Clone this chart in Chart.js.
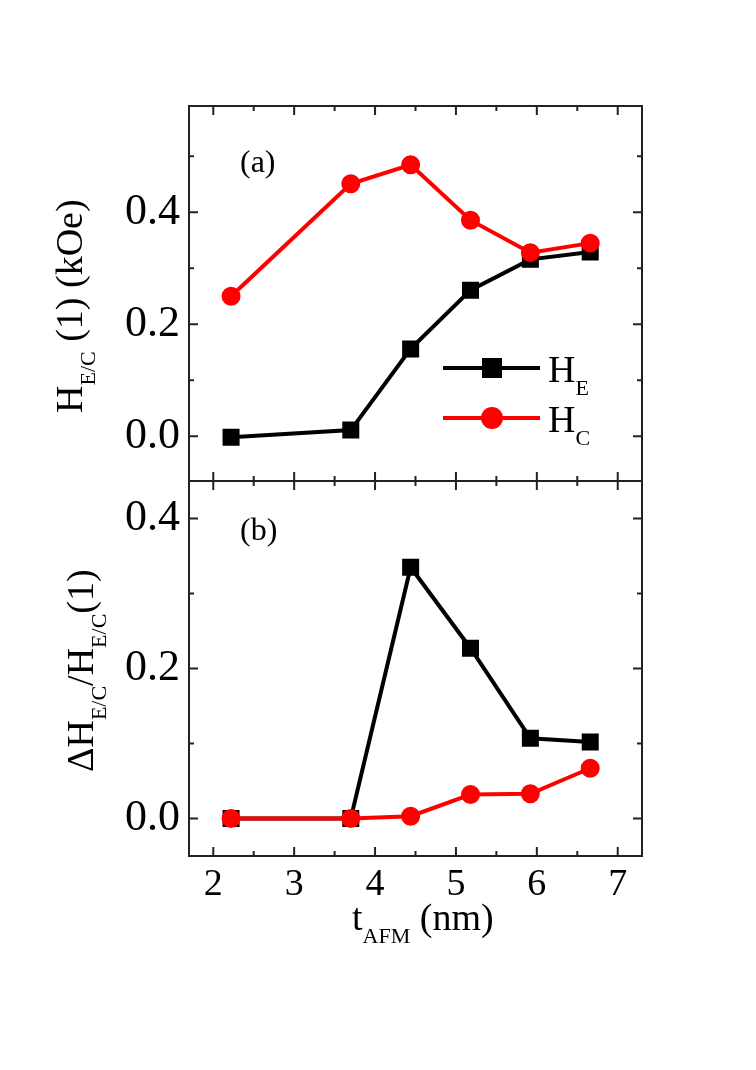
<!DOCTYPE html>
<html>
<head>
<meta charset="utf-8">
<script src="https://cdn.jsdelivr.net/npm/chart.js@4"></script>
<style>
  body { margin: 0; background: #fff; }
  #wrap { position: relative; width: 756px; height: 1070px; }
  #wrap canvas { position: absolute; left: 0; top: 0; }
</style>
</head>
<body>
<div id="wrap">
  <canvas id="chartA" width="756" height="1070"></canvas>
  <canvas id="chartB" width="756" height="1070"></canvas>
</div>
<script>
// толщина AFM слоя, nm
var tAFM = [2.22, 3.70, 4.44, 5.18, 5.92, 6.66];
// панель (a): поля после первого цикла, kOe
var HE1 = [-0.002, 0.011, 0.156, 0.261, 0.316, 0.329];
var HC1 = [0.250, 0.451, 0.485, 0.386, 0.328, 0.345];
// панель (b): относительное изменение
var dHE = [0.000, 0.000, 0.335, 0.227, 0.107, 0.102];
var dHC = [0.000, 0.000, 0.003, 0.032, 0.033, 0.067];
var xTicks = [2, 3, 4, 5, 6, 7];
var yTicks = [0.0, 0.2, 0.4];

var SERIF = '"Liberation Serif", "DejaVu Serif", serif';
var RED = '#ff0000';

function pts(ys){ // пары x-y для линейной оси
    return tAFM.map(function(x, i){ return {x: x, y: ys[i]}; });
}

function drawParts(ctx, parts, x, y){ // рисуем текст с нижними индексами
    parts.forEach(function(p){
        var sub = p[1] === 'sub';
        ctx.font = (sub ? '22px ' : '38px ') + SERIF;
        ctx.fillText(p[0], x, y + (sub ? 13 : 0));
        x += ctx.measureText(p[0]).width;
    });
}

var framePlugin = { // рамка, внутренние засечки и подписи
    id: 'frame',
    afterDraw: function(chart, args, opts){
        var ctx = chart.ctx, a = chart.chartArea;
        var xs = chart.scales.x, ys = chart.scales.y;
        ctx.save();
        ctx.strokeStyle = '#222';
        ctx.lineWidth = 2;
        ctx.strokeRect(a.left, a.top, a.right - a.left, a.bottom - a.top);
        ctx.beginPath();
        for (var v = 2; v <= 7.001; v += 0.5) {
            var px = xs.getPixelForValue(v);
            var len = (Math.abs(v - Math.round(v)) < 0.01) ? 9 : 5;
            ctx.moveTo(px, a.bottom); ctx.lineTo(px, a.bottom - len);
            ctx.moveTo(px, a.top); ctx.lineTo(px, a.top + len);
        }
        var start = Math.ceil(ys.min * 10 - 0.001) / 10;
        for (var w = start; w <= ys.max + 0.001; w += 0.1) {
            var py = ys.getPixelForValue(w);
            var k = Math.round(w * 10);
            var l2 = (k % 2 === 0) ? 9 : 5;
            ctx.moveTo(a.left, py); ctx.lineTo(a.left + l2, py);
            ctx.moveTo(a.right, py); ctx.lineTo(a.right - l2, py);
        }
        ctx.stroke();

        ctx.fillStyle = '#000';
        ctx.textBaseline = 'alphabetic';
        ctx.textAlign = 'left';
        ctx.font = '32px ' + SERIF;
        ctx.fillText(opts.tag, opts.tagX, opts.tagY);

        // заголовок оси Y, повернутый
        ctx.save();
        ctx.translate(opts.yTitleX, opts.yTitleY);
        ctx.rotate(-Math.PI / 2);
        drawParts(ctx, opts.yTitle, 0, 0);
        ctx.restore();

        if (opts.xTitle) {
            drawParts(ctx, opts.xTitle, 352, 930);
        }

        if (opts.legend) { // легенда вручную из-за индексов
            chart.data.datasets.forEach(function(ds, i){
                var ly = opts.legendY[i];
                ctx.strokeStyle = ds.borderColor;
                ctx.lineWidth = 4;
                ctx.beginPath();
                ctx.moveTo(443, ly); ctx.lineTo(540, ly);
                ctx.stroke();
                ctx.fillStyle = ds.borderColor;
                if (ds.pointStyle === 'rect') {
                    ctx.fillRect(482, ly - 10, 20, 20);
                } else {
                    ctx.beginPath();
                    ctx.arc(492, ly, 11, 0, Math.PI * 2);
                    ctx.fill();
                }
                ctx.fillStyle = '#000';
                drawParts(ctx, [['H', 'main'], [ds.label, 'sub']], 548, ly + 14);
            });
        }
        ctx.restore();
    }
};

function makeDatasets(he, hc){
    return [{
        label: 'E', data: pts(he), borderColor: '#000', backgroundColor: '#000',
        borderWidth: 4, pointStyle: 'rect', pointRadius: 9.2, order: 1
    }, {
        label: 'C', data: pts(hc), borderColor: RED, backgroundColor: RED,
        borderWidth: 4, pointStyle: 'circle', pointRadius: 7.5, order: 0
    }];
}

function yAxis(min, max){
    return {
        type: 'linear', min: min, max: max,
        afterFit: function(s){ s.width = 189; },
        grid: { display: false, drawTicks: false },
        border: { display: false },
        afterBuildTicks: function(s){ s.ticks = yTicks.map(function(v){ return {value: v}; }); },
        ticks: {
            padding: 9, color: '#000', font: { family: SERIF, size: 44 },
            callback: function(v){ return Number(v).toFixed(1); }
        }
    };
}

function xAxis(show){
    return {
        type: 'linear', min: 1.7, max: 7.3, display: show,
        afterFit: function(s){ s.height = show ? 214 : 0; },
        grid: { display: false, drawTicks: false },
        border: { display: false },
        afterBuildTicks: function(s){ s.ticks = xTicks.map(function(v){ return {value: v}; }); },
        ticks: { padding: 6, color: '#000', font: { family: SERIF, size: 38 } }
    };
}

Chart.defaults.devicePixelRatio = 1;

new Chart(document.getElementById('chartA'), {
    type: 'line',
    data: { datasets: makeDatasets(HE1, HC1) },
    options: {
        responsive: false, animation: false,
        layout: { padding: { top: 106, right: 114, bottom: 589, left: 0 } },
        scales: { x: xAxis(false), y: yAxis(-0.08, 0.59) },
        plugins: {
            legend: { display: false }, tooltip: { enabled: false },
            frame: {
                tag: '(a)', tagX: 240, tagY: 172,
                yTitle: [['H', 'main'], ['E/C', 'sub'], [' (1) (kOe)', 'main']],
                yTitleX: 82, yTitleY: 413,
                legend: true, legendY: [368, 418]
            }
        }
    },
    plugins: [framePlugin]
});

new Chart(document.getElementById('chartB'), {
    type: 'line',
    data: { datasets: makeDatasets(dHE, dHC) },
    options: {
        responsive: false, animation: false,
        layout: { padding: { top: 481, right: 114, bottom: 0, left: 0 } },
        scales: { x: xAxis(true), y: yAxis(-0.05, 0.45) },
        plugins: {
            legend: { display: false }, tooltip: { enabled: false },
            frame: {
                tag: '(b)', tagX: 240, tagY: 540,
                yTitle: [['\u0394H', 'main'], ['E/C', 'sub'], ['/H', 'main'], ['E/C', 'sub'], ['(1)', 'main']],
                yTitleX: 93, yTitleY: 772,
                xTitle: [['t', 'main'], ['AFM', 'sub'], [' (nm)', 'main']]
            }
        }
    },
    plugins: [framePlugin]
});
</script>
</body>
</html>
